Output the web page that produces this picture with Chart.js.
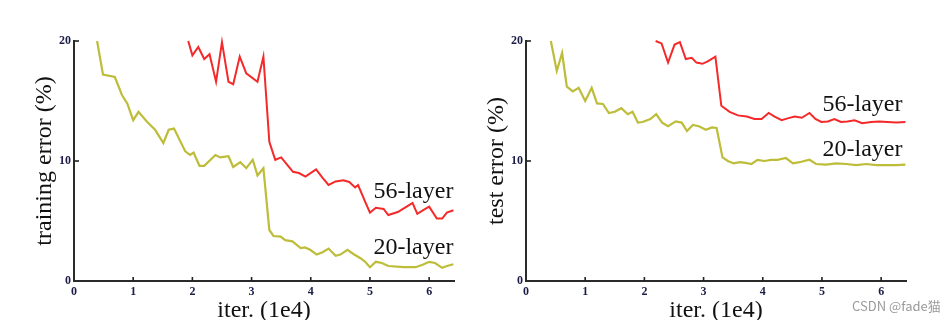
<!DOCTYPE html>
<html>
<head>
<meta charset="utf-8">
<script src="https://cdn.jsdelivr.net/npm/chart.js@4.4.1/dist/chart.umd.min.js"></script>
<style>
  html, body { margin: 0; padding: 0; background: #fff; }
  body { width: 952px; height: 320px; position: relative; overflow: hidden; }
  .box { position: absolute; top: 0; width: 476px; height: 320px; }
  #wm { position: absolute; left: 852px; top: 296px; font: 13px "Noto Sans CJK SC", "Noto Sans", sans-serif; color: #9a9a9a; white-space: nowrap; }
</style>
</head>
<body>
<div class="box" style="left:0"><canvas id="c1" width="476" height="320"></canvas></div>
<div class="box" style="left:476px"><canvas id="c2" width="476" height="320"></canvas></div>
<div id="wm">CSDN @fade猫</div>
<script>
// ---- data (x in units of 1e4 iterations, y in %) ----
const xTickLabels = ['0', '1', '2', '3', '4', '5', '6'];
const yTickLabels = ['0', '10', '20'];

const trainIter20 = [0.39,0.49,0.69,0.81,0.9,1.0,1.09,1.23,1.37,1.51,1.6,1.69,1.88,1.96,2.02,2.12,2.2,2.39,2.47,2.61,2.69,2.81,2.91,3.02,3.1,3.2,3.3,3.37,3.49,3.57,3.69,3.83,3.9,3.99,4.1,4.2,4.3,4.42,4.5,4.62,4.72,4.84,4.92,5.0,5.1,5.2,5.31,5.57,5.77,5.89,6.0,6.1,6.22,6.3,6.41];
const trainErr20  = [20,17.2,17.0,15.5,14.8,13.4,14.1,13.3,12.6,11.5,12.6,12.7,10.8,10.5,10.7,9.6,9.6,10.5,10.3,10.4,9.5,9.9,9.4,10.1,8.8,9.4,4.25,3.75,3.7,3.4,3.3,2.75,2.8,2.6,2.2,2.4,2.7,2.1,2.2,2.6,2.25,1.9,1.6,1.15,1.6,1.5,1.25,1.15,1.15,1.35,1.6,1.5,1.1,1.25,1.4];

const trainIter56 = [1.93,2.0,2.1,2.2,2.29,2.4,2.5,2.61,2.69,2.8,2.91,3.1,3.2,3.3,3.4,3.5,3.6,3.7,3.8,3.91,4.09,4.2,4.3,4.42,4.55,4.65,4.75,4.8,4.92,5.0,5.1,5.23,5.31,5.47,5.62,5.72,5.8,5.9,6.0,6.13,6.22,6.3,6.41];
const trainErr56  = [20,18.8,19.5,18.5,18.9,16.6,19.9,16.6,16.4,18.7,17.3,16.6,18.7,11.6,10.1,10.3,9.7,9.1,9.0,8.7,9.3,8.6,8.0,8.3,8.4,8.25,7.8,8.0,6.6,5.7,6.1,6.0,5.5,5.75,6.2,6.5,5.6,5.9,6.2,5.2,5.2,5.7,5.9];

const testIter20 = [0.42,0.52,0.61,0.69,0.79,0.89,1.0,1.11,1.2,1.3,1.4,1.5,1.61,1.72,1.8,1.89,1.97,2.1,2.2,2.3,2.4,2.53,2.63,2.72,2.82,2.92,3.04,3.14,3.22,3.32,3.41,3.51,3.61,3.71,3.81,3.91,4.03,4.14,4.25,4.39,4.51,4.62,4.79,4.9,5.07,5.24,5.41,5.58,5.75,5.92,6.09,6.26,6.41];
const testErr20  = [20,17.5,19.0,16.2,15.8,16.1,15.0,16.1,14.8,14.75,14.0,14.1,14.4,13.9,14.1,13.2,13.25,13.5,13.9,13.2,12.9,13.3,13.2,12.5,13.0,12.9,12.6,12.8,12.75,10.3,10.0,9.8,9.9,9.85,9.75,10.1,10.0,10.1,10.1,10.25,9.8,9.9,10.1,9.75,9.7,9.8,9.75,9.65,9.75,9.65,9.65,9.65,9.7];

const testIter56 = [2.19,2.29,2.4,2.51,2.6,2.7,2.8,2.88,2.98,3.07,3.2,3.3,3.44,3.58,3.73,3.86,3.98,4.1,4.2,4.32,4.42,4.54,4.66,4.79,4.89,4.99,5.1,5.21,5.32,5.43,5.55,5.68,5.83,5.97,6.1,6.26,6.41];
const testErr56  = [20,19.8,18.2,19.7,19.9,18.5,18.6,18.2,18.1,18.3,18.7,14.6,14.1,13.8,13.7,13.5,13.5,14.0,13.7,13.4,13.55,13.7,13.6,14.0,13.5,13.25,13.3,13.5,13.25,13.3,13.4,13.15,13.25,13.3,13.25,13.2,13.25];

const seriesNames = ['56-layer', '20-layer'];
const RED = '#f42a2a';
const OLIVE = '#bdbd3a';
const SERIF = '"Liberation Serif", "Times New Roman", serif';

function pts(xs, ys) { return xs.map((x, i) => ({ x: x, y: ys[i] })); }

// inward tick marks, drawn at the scales' own tick positions
const inwardTicks = {
  id: 'inwardTicks',
  afterDatasetsDraw(chart) {
    const { ctx } = chart;
    const xs = chart.scales.x, ys = chart.scales.y;
    ctx.save();
    ctx.strokeStyle = '#222';
    ctx.lineWidth = 1.6;
    xs.ticks.forEach(t => {
      if (t.value === 0) return;
      const px = xs.getPixelForValue(t.value);
      ctx.beginPath(); ctx.moveTo(px, ys.bottom); ctx.lineTo(px, ys.bottom - 4); ctx.stroke();
    });
    ys.ticks.forEach(t => {
      if (t.value === 0) return;
      const py = ys.getPixelForValue(t.value);
      ctx.beginPath(); ctx.moveTo(xs.left, py); ctx.lineTo(xs.left + 5, py); ctx.stroke();
    });
    ctx.restore();
  }
};

// series name labels anchored in data coordinates
const seriesLabels = {
  id: 'seriesLabels',
  afterDatasetsDraw(chart, args, opts) {
    const { ctx } = chart;
    const xs = chart.scales.x, ys = chart.scales.y;
    ctx.save();
    ctx.font = '24px ' + SERIF;
    ctx.fillStyle = '#111';
    ctx.textAlign = 'right';
    ctx.textBaseline = 'middle';
    (opts.items || []).forEach(it => {
      ctx.fillText(it.text, xs.getPixelForValue(it.x), ys.getPixelForValue(it.y));
    });
    ctx.restore();
  }
};

function makeChart(id, yTitle, d56, d20, yAxisWidth, titleOffset, padRight, labels) {
  return new Chart(document.getElementById(id), {
    type: 'line',
    data: {
      datasets: [
        { label: seriesNames[0], data: d56, borderColor: RED, borderWidth: 2, pointRadius: 0, tension: 0, fill: false, clip: false },
        { label: seriesNames[1], data: d20, borderColor: OLIVE, borderWidth: 2.2, pointRadius: 0, tension: 0, fill: false, clip: false }
      ]
    },
    options: {
      responsive: false,
      animation: false,
      events: [],
      layout: { padding: { left: 0, right: padRight, top: 41, bottom: 0 } },
      plugins: {
        legend: { display: false },
        tooltip: { enabled: false },
        seriesLabels: { items: labels }
      },
      scales: {
        x: {
          type: 'linear', min: 0, max: 6.42,
          grid: { display: false, drawTicks: false },
          border: { display: true, color: '#2a2a2a', width: 2 },
          ticks: {
            stepSize: 1, includeBounds: false, padding: 4,
            color: '#1c1c48', font: { family: SERIF, size: 12, weight: 'bold' },
            callback: (v) => xTickLabels[v] !== undefined ? xTickLabels[v] : ''
          },
          title: { display: true, text: 'iter. (1e4)', color: '#111', font: { family: SERIF, size: 24, lineHeight: 0.8 }, padding: { top: 0, bottom: 0 } },
          afterFit: (s) => { s.height = 39; }
        },
        y: {
          type: 'linear', min: 0, max: 20,
          grid: { display: false, drawTicks: false },
          border: { display: true, color: '#2a2a2a', width: 2 },
          ticks: {
            stepSize: 10, padding: 3,
            color: '#1c1c48', font: { family: SERIF, size: 12, weight: 'bold' },
            callback: (v) => yTickLabels[v / 10] !== undefined ? yTickLabels[v / 10] : ''
          },
          title: { display: true, text: yTitle, color: '#111', font: { family: SERIF, size: 24, lineHeight: 1.2 }, padding: { top: titleOffset, bottom: 0 } },
          afterFit: (s) => { s.width = yAxisWidth; }
        }
      }
    },
    plugins: [inwardTicks, seriesLabels]
  });
}

makeChart('c1', 'training error (%)', pts(trainIter56, trainErr56), pts(trainIter20, trainErr20), 74, 30.6, 22,
  [{ text: seriesNames[0], x: 6.41, y: 7.4 }, { text: seriesNames[1], x: 6.41, y: 2.75 }]);
makeChart('c2', 'test error (%)', pts(testIter56, testErr56), pts(testIter20, testErr20), 50, 6.4, 46,
  [{ text: seriesNames[0], x: 6.36, y: 14.7 }, { text: seriesNames[1], x: 6.36, y: 10.9 }]);
</script>
</body>
</html>
